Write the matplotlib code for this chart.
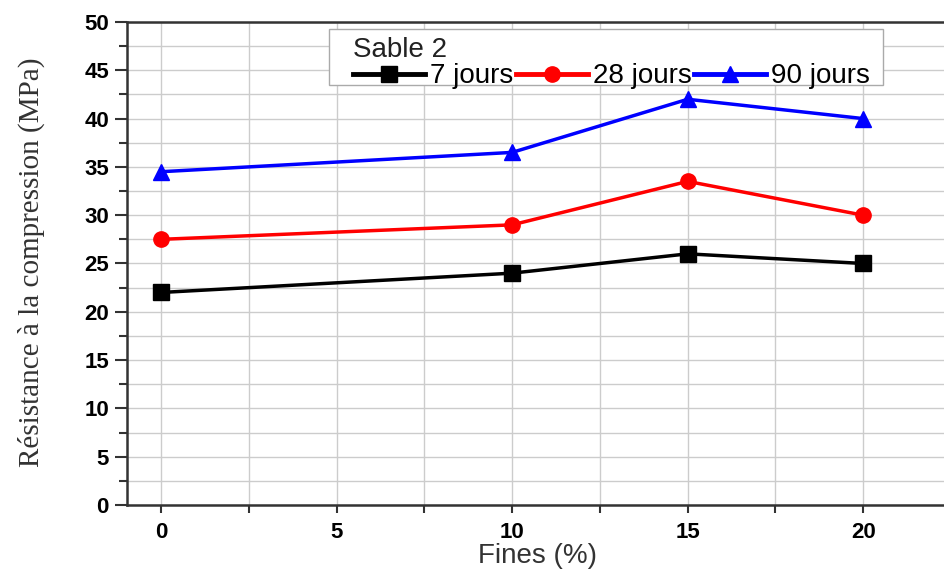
import matplotlib
matplotlib.use('Agg')
import matplotlib.pyplot as plt
from matplotlib.patches import Rectangle
from matplotlib.ticker import MultipleLocator

fines = [0, 10, 15, 20]
r7 = [22, 24, 26, 25]
r28 = [27.5, 29, 33.5, 30]
r90 = [34.5, 36.5, 42, 40]
labels = ['7 jours', '28 jours', '90 jours']

if __name__ == '__main__':
    fig = plt.figure(figsize=(9.44, 5.74), dpi=100)
    ax = fig.add_axes([0.1345, 0.1202, 0.8655, 0.8415])

    ax.plot(fines, r7, color='black', marker='s', markersize=11, linewidth=2.5, label=labels[0])
    ax.plot(fines, r28, color='red', marker='o', markersize=11, linewidth=2.5, label=labels[1])
    ax.plot(fines, r90, color='blue', marker='^', markersize=12, linewidth=2.5, label=labels[2])

    ax.set_xlim(-0.97, 22.3)
    ax.set_ylim(0, 50)
    ax.xaxis.set_major_locator(MultipleLocator(5))
    ax.xaxis.set_minor_locator(MultipleLocator(2.5))
    ax.yaxis.set_major_locator(MultipleLocator(5))
    ax.yaxis.set_minor_locator(MultipleLocator(2.5))
    ax.grid(which='both', color='#cccccc', linewidth=1)
    ax.set_axisbelow(True)

    for s in ['left', 'bottom', 'top']:
        ax.spines[s].set_linewidth(1.8)
        ax.spines[s].set_color('#333333')
    ax.spines['right'].set_visible(False)

    ax.tick_params(which='both', direction='out', width=1.5, colors='#333333')
    ax.tick_params(axis='y', which='major', length=9)
    ax.tick_params(axis='y', which='minor', length=6)
    ax.tick_params(axis='x', which='both', length=6)
    ax.tick_params(axis='both', labelsize=16, labelcolor='black')
    ax.tick_params(axis='y', pad=4)
    ax.tick_params(axis='x', pad=6)
    for lab in ax.get_xticklabels() + ax.get_yticklabels():
        lab.set_fontweight('bold')
        lab.set_family('Liberation Sans')

    ax.set_xlabel('Fines (%)', fontsize=20, family='Liberation Sans', color='#333333')
    ax.xaxis.set_label_coords(0.503, -0.078)
    ax.set_ylabel('Résistance à la compression (MPa)', fontsize=21, family='Liberation Serif',
                  color='#333333')
    ax.yaxis.set_label_coords(-0.1, 0.503)

    # legend frame drawn separately (tight top/bottom, wider left margin)
    ax.add_patch(Rectangle((0.247, 0.8696), 0.678, 0.1159, transform=ax.transAxes,
                           facecolor='white', edgecolor='#aaaaaa', linewidth=1, zorder=4))
    leg = ax.legend(title='Sable 2', ncol=3, loc='upper left', bbox_to_anchor=(0.2766, 0.968),
                    handlelength=2.6, handletextpad=0.18, columnspacing=0.08,
                    borderpad=0, labelspacing=0, borderaxespad=0, frameon=False,
                    prop={'family': 'Liberation Sans', 'size': 20}, title_fontsize=20)
    leg.set_zorder(5)
    leg._legend_box.align = 'left'
    leg.get_title().set_family('Liberation Sans')
    leg.get_title().set_color('#222222')
    for h in leg.legend_handles:
        h.set_linewidth(3.5)

    fig.savefig('out.png', dpi=100)
